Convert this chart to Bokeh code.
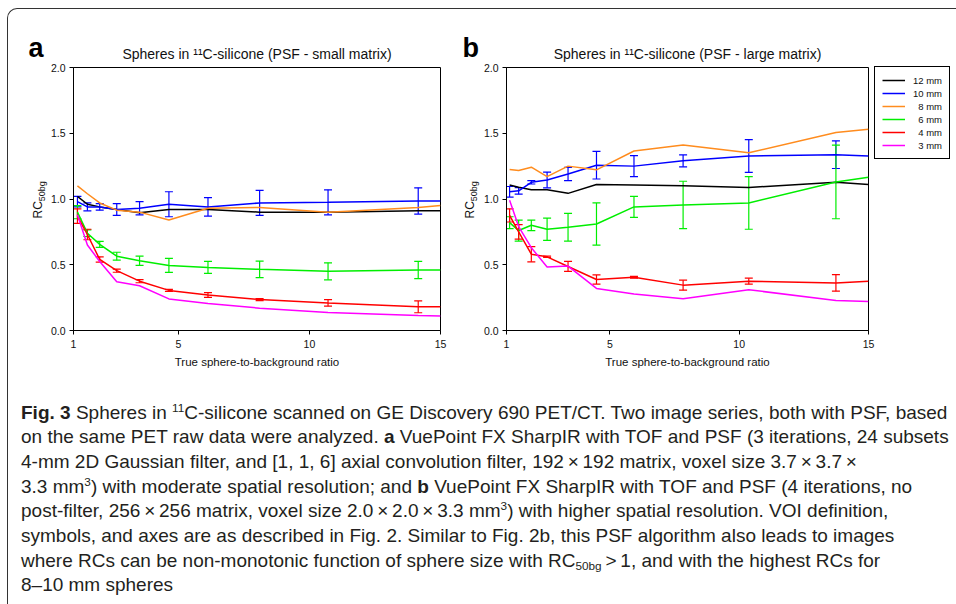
from bokeh.plotting import figure
from bokeh.models import (ColumnDataSource, Whisker, TeeHead, Label, Legend, LegendItem,
                          FixedTicker, PrintfTickFormatter, Range1d, Div)
from bokeh.layouts import row, column
from bokeh.embed import file_html
from bokeh.resources import INLINE

# ---------------- data ----------------
SIZES = ["12 mm", "10 mm", "8 mm", "6 mm", "4 mm", "3 mm"]
LEGEND_LABELS = ["12 mm", "10 mm", "\u20078 mm", "\u20076 mm", "\u20074 mm", "\u20073 mm"]
COLORS = ["#000000", "#0000ff", "#ff8c1e", "#00ee00", "#ff0000", "#ff00ff"]
X_TICKS = [1, 5, 10, 15]
Y_TICKS = [0.0, 0.5, 1.0, 1.5, 2.0]

# panel a (PSF - small matrix)
XA = [1.15, 1.53, 2.0, 2.65, 3.52, 4.64, 6.13, 8.10, 10.71, 14.15, 15.0]
A_12 = [1.02, 0.96, 0.94, 0.92, 0.895, 0.92, 0.92, 0.90, 0.90, 0.91, 0.91]
A_10 = [0.98, 0.94, 0.94, 0.92, 0.93, 0.96, 0.94, 0.97, 0.975, 0.985, 0.985]
A_10_ERR = [0.04, 0.03, 0.025, 0.045, 0.05, 0.095, 0.07, 0.095, 0.095, 0.10]
A_8 = [1.10, 1.04, 0.97, 0.915, 0.90, 0.84, 0.93, 0.935, 0.90, 0.935, 0.95]
A_6 = [0.90, 0.74, 0.655, 0.565, 0.53, 0.495, 0.48, 0.465, 0.45, 0.46, 0.46]
A_6_ERR = [0.05, 0.025, 0.023, 0.03, 0.035, 0.053, 0.045, 0.063, 0.065, 0.065]
A_4 = [0.87, 0.73, 0.54, 0.455, 0.375, 0.305, 0.27, 0.235, 0.21, 0.18, 0.18]
A_4_ERR = [0.055, 0.04, 0.02, 0.012, 0.012, 0.008, 0.018, 0.008, 0.025, 0.045]
A_3 = [0.88, 0.65, 0.525, 0.37, 0.34, 0.24, 0.205, 0.17, 0.137, 0.114, 0.11]

# panel b (PSF - large matrix)
XB = [1.12, 1.47, 1.96, 2.57, 3.38, 4.48, 5.93, 7.83, 10.37, 13.74, 15.0]
B_12 = [1.107, 1.09, 1.07, 1.07, 1.043, 1.11, 1.107, 1.10, 1.087, 1.128, 1.11]
B_10 = [1.055, 1.062, 1.127, 1.145, 1.19, 1.257, 1.25, 1.29, 1.327, 1.337, 1.327]
B_10_ERR = [0.04, 0.025, 0.013, 0.06, 0.05, 0.105, 0.08, 0.045, 0.125, 0.105]
B_8 = [1.225, 1.216, 1.242, 1.17, 1.25, 1.222, 1.365, 1.41, 1.352, 1.505, 1.53]
B_6 = [0.82, 0.76, 0.80, 0.77, 0.785, 0.81, 0.94, 0.955, 0.97, 1.13, 1.165]
B_6_ERR = [0.045, 0.08, 0.04, 0.085, 0.105, 0.16, 0.08, 0.18, 0.20, 0.28]
B_4 = [0.875, 0.75, 0.58, 0.56, 0.487, 0.388, 0.405, 0.345, 0.375, 0.362, 0.374]
B_4_ERR = [0.05, 0.055, 0.058, 0.005, 0.038, 0.035, 0.006, 0.038, 0.023, 0.063]
B_3 = [0.99, 0.79, 0.63, 0.483, 0.49, 0.32, 0.277, 0.242, 0.31, 0.228, 0.22]

TITLE_A = "Spheres in \u00b9\u00b9C-silicone (PSF - small matrix)"
TITLE_B = "Spheres in \u00b9\u00b9C-silicone (PSF - large matrix)"
X_LABEL = "True sphere-to-background ratio"
Y_LABEL_MAIN = "RC"
Y_LABEL_SUB = "50bg"

CAPTION_LINES = [
    "<b>Fig. 3</b> Spheres in <sup>11</sup>C-silicone scanned on GE Discovery 690 PET/CT. Two image series, both with PSF, based",
    "on the same PET raw data were analyzed. <b>a</b> VuePoint FX SharpIR with TOF and PSF (3 iterations, 24 subsets",
    "4-mm 2D Gaussian filter, and [1, 1, 6] axial convolution filter, 192\u2009\u00d7\u2009192 matrix, voxel size 3.7\u2009\u00d7\u20093.7\u2009\u00d7",
    "3.3 mm<sup>3</sup>) with moderate spatial resolution; and <b>b</b> VuePoint FX SharpIR with TOF and PSF (4 iterations, no",
    "post-filter, 256\u2009\u00d7\u2009256 matrix, voxel size 2.0\u2009\u00d7\u20092.0\u2009\u00d7\u20093.3 mm<sup>3</sup>) with higher spatial resolution. VOI definition,",
    "symbols, and axes are as described in Fig. 2. Similar to Fig. 2b, this PSF algorithm also leads to images",
    "where RCs can be non-monotonic function of sphere size with RC<sub>50bg</sub>\u2009&gt;\u20091, and with the highest RCs for",
    "8\u201310 mm spheres",
]

FONT = "Liberation Sans"
TEXT_COLOR = "#111111"


def make_panel(width, ml, mr, xs, series, errors):
    p = figure(width=width, height=380, x_range=Range1d(1, 15), y_range=Range1d(0, 2),
               output_backend="svg", toolbar_location=None, title=None,
               min_border_left=ml, min_border_right=mr, min_border_top=67, min_border_bottom=50,
               background_fill_color="white", border_fill_color="white")
    p.outline_line_color = "black"
    p.outline_line_width = 1
    p.outline_line_alpha = 1.0
    p.grid.visible = False
    p.xaxis.ticker = FixedTicker(ticks=X_TICKS)
    p.yaxis.ticker = FixedTicker(ticks=Y_TICKS)
    p.yaxis.formatter = PrintfTickFormatter(format="%.1f")
    for ax in (p.xaxis[0], p.yaxis[0]):
        ax.axis_line_color = "black"
        ax.axis_line_width = 1
        ax.major_tick_line_color = "black"
        ax.major_tick_out = 4
        ax.major_tick_in = 0
        ax.minor_tick_line_color = None
        ax.major_label_text_font = FONT
        ax.major_label_text_font_size = "10.5px"
        ax.major_label_text_color = TEXT_COLOR
    p.yaxis.major_label_standoff = 4
    p.xaxis.major_label_standoff = 5
    p.xaxis.axis_label = X_LABEL
    p.xaxis.axis_label_text_font = FONT
    p.xaxis.axis_label_text_font_size = "11.5px"
    p.xaxis.axis_label_text_font_style = "normal"
    p.xaxis.axis_label_text_color = TEXT_COLOR
    p.xaxis.axis_label_standoff = 5

    renderers = []
    for (ys, color), err in zip(series, errors):
        r = p.line(xs, ys, line_color=color, line_width=1.5)
        renderers.append(r)
        if err is not None:
            n = len(err)
            src = ColumnDataSource(dict(x=xs[:n],
                                        upper=[y + e for y, e in zip(ys[:n], err)],
                                        lower=[y - e for y, e in zip(ys[:n], err)]))
            w = Whisker(source=src, base="x", upper="upper", lower="lower",
                        line_color=color, line_width=1.2,
                        upper_head=TeeHead(size=8, line_color=color, line_width=1.2),
                        lower_head=TeeHead(size=8, line_color=color, line_width=1.2))
            p.add_layout(w)
    return p, renderers


series_a = [(A_12, COLORS[0]), (A_10, COLORS[1]), (A_8, COLORS[2]),
            (A_6, COLORS[3]), (A_4, COLORS[4]), (A_3, COLORS[5])]
errs_a = [None, A_10_ERR, None, A_6_ERR, A_4_ERR, None]
series_b = [(B_12, COLORS[0]), (B_10, COLORS[1]), (B_8, COLORS[2]),
            (B_6, COLORS[3]), (B_4, COLORS[4]), (B_3, COLORS[5])]
errs_b = [None, B_10_ERR, None, B_6_ERR, B_4_ERR, None]

pA, _ = make_panel(458, 73, 18, XA, series_a, errs_a)
pB, _ = make_panel(498, 48, 88, XB, series_b, errs_b)

# ---------- transparent overlay figure: panel letters, titles, y labels and the legend
overlay = figure(width=956, height=604, x_range=Range1d(0, 956), y_range=Range1d(604, 0),
                 output_backend="svg", toolbar_location=None, title=None, min_border=0,
                 x_axis_type=None, y_axis_type=None,
                 background_fill_alpha=0, border_fill_alpha=0, outline_line_color=None,
                 styles={"position": "absolute", "left": "0px", "top": "0px",
                         "pointer-events": "none"})
overlay.grid.visible = False


def put(x, y, text, size, bold=False, align="left", angle=0.0):
    overlay.add_layout(Label(x=x, y=y, text=text, text_font=FONT, text_font_size=size,
                             text_font_style="bold" if bold else "normal",
                             text_color="#000000" if bold else TEXT_COLOR,
                             text_align=align, text_baseline="alphabetic", angle=angle))


# panel letters
put(28, 47, "a", "27px", bold=True)
put(462, 47, "b", "27px", bold=True)
# panel titles (centred over each frame)
put(256.5, 53, TITLE_A, "14px", align="center")
put(687, 53, TITLE_B, "14px", align="center")
# rotated y labels  RC_50bg
for x0 in (37.5, 469.5):
    put(x0, 218, Y_LABEL_MAIN, "12px", angle=1.5707963)
    put(x0 + 3.5, 200.7, Y_LABEL_SUB, "9px", angle=1.5707963)

# legend keys styled like the series of panel b (a single NaN point: nothing drawn in the plot)
NAN = float("nan")
keys = [overlay.line(x=[NAN], y=[NAN], line_color=c, line_width=1.5) for c in COLORS]
legend = Legend(items=[LegendItem(label=lbl, renderers=[k]) for lbl, k in zip(LEGEND_LABELS, keys)],
                location=(874, 445))
legend.border_line_color = "black"
legend.border_line_width = 1
legend.border_line_alpha = 1.0
legend.background_fill_color = "white"
legend.background_fill_alpha = 1.0
legend.label_text_font = FONT
legend.label_text_font_size = "9.5px"
legend.label_text_color = TEXT_COLOR
legend.glyph_width = 23
legend.glyph_height = 12
legend.label_height = 12
legend.label_standoff = 8
legend.spacing = 1
legend.padding = 7
legend.margin = 0
overlay.add_layout(legend)

sup_style = "font-size:62%;line-height:0;vertical-align:0.62em"
sub_style = "font-size:62%;line-height:0;vertical-align:-0.25em"
lines_html = "".join(
    '<div style="height:24.7px;line-height:24.7px">%s</div>' %
    l.replace("<sup>", '<sup style="%s">' % sup_style).replace("<sub>", '<sub style="%s">' % sub_style)
    for l in CAPTION_LINES)
caption = Div(text=('<div style="font-family:\'Liberation Sans\',sans-serif;font-size:19px;'
                    'color:#231f20;white-space:nowrap;padding:20.5px 0 0 21px;">%s</div>' % lines_html),
              width=956, height=224, margin=0)

border = Div(text="", width=949, height=596, margin=0,
             styles={"position": "absolute", "left": "7px", "top": "8px",
                     "border-top": "1.8px solid #333333", "border-left": "1.8px solid #333333",
                     "border-top-left-radius": "10px", "pointer-events": "none",
                     "box-sizing": "border-box"})

layout = column(row(pA, pB), caption, border, overlay)

with open("out.html", "w") as f:
    f.write(file_html(layout, INLINE))
